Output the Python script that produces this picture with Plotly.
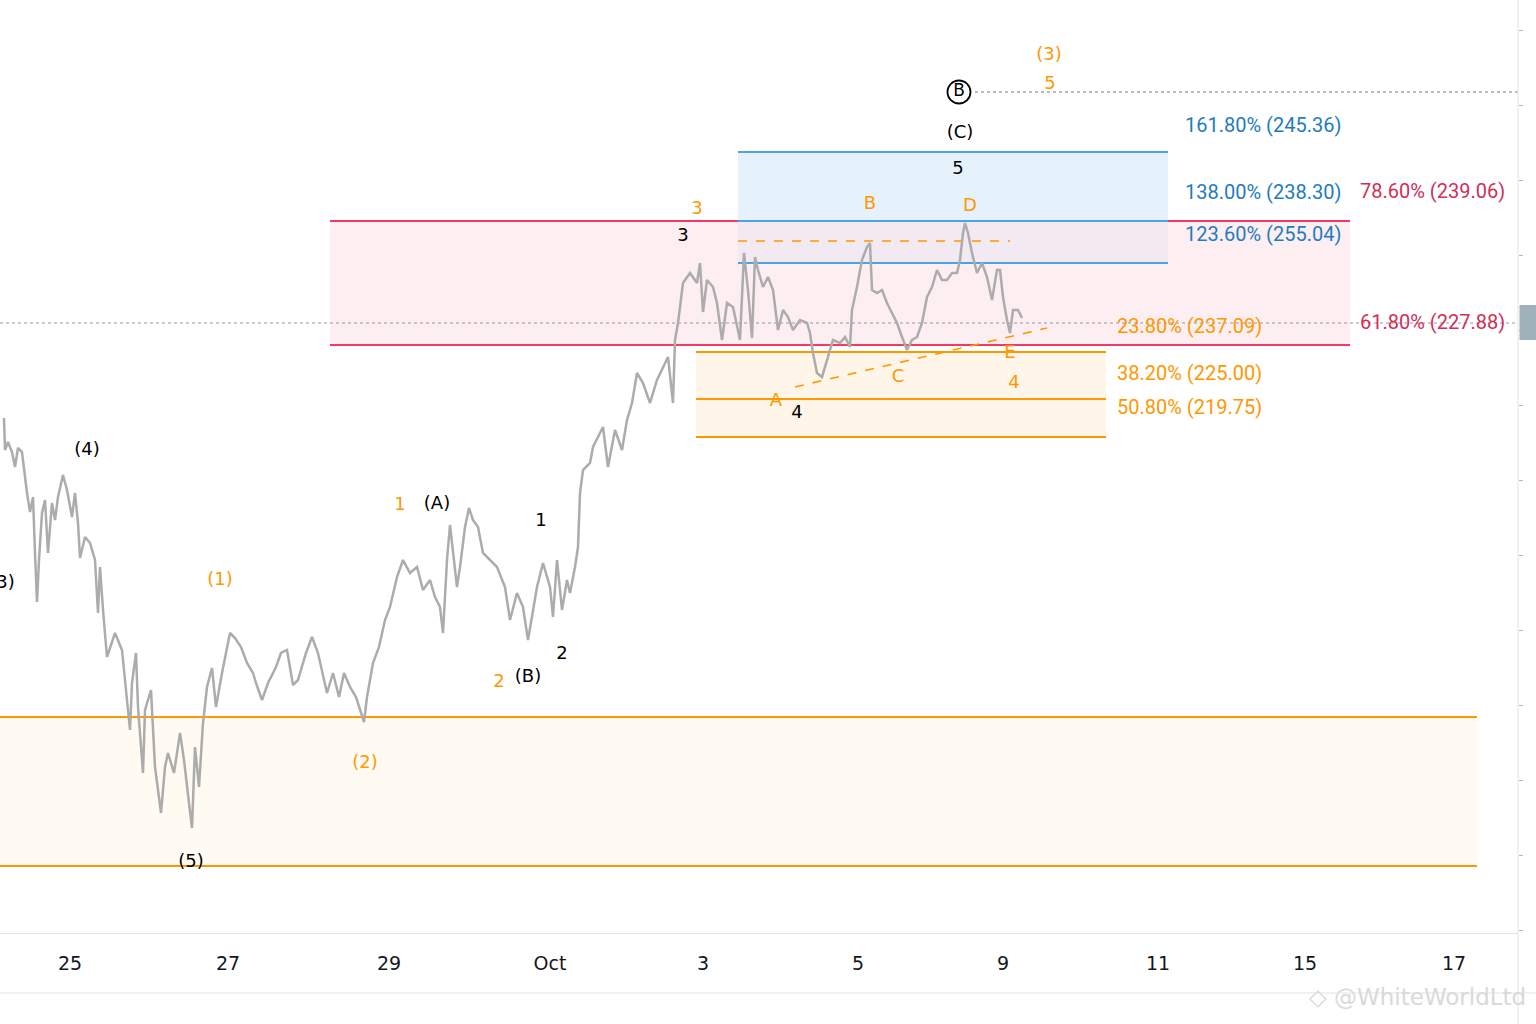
import plotly.graph_objects as go

# time axis in chart "slots"; the labels are the session dates
TICK_T = [7.0, 22.8, 38.9, 55.0, 70.3, 85.8, 100.3, 115.8, 130.5, 145.4]
TICK_TEXT = ["25", "27", "29", "Oct", "3", "5", "9", "11", "15", "17"]

# price path
PRICE_T = [
    0.4, 0.5, 0.8, 1.2, 1.5, 1.8, 2.2, 2.5, 2.7, 3.0,
    3.3, 3.5, 3.7, 3.9, 4.2, 4.5, 4.8, 5.2, 5.5, 5.8,
    6.3, 6.7, 7.2, 7.5, 7.8, 8.0, 8.5, 9.0, 9.5, 9.8,
    10.0, 10.3, 10.7, 11.5, 12.2, 13.0, 13.2, 13.6, 13.8, 14.3,
    14.5, 15.1, 15.5, 16.1, 16.5, 16.8, 17.4, 18.0, 18.4, 18.9,
    19.2, 19.5, 19.9, 20.3, 20.7, 21.2, 21.6, 22.2, 22.6, 23.0,
    23.5, 24.1, 24.7, 25.3, 25.6, 26.2, 26.8, 27.6, 28.1, 28.7,
    29.3, 29.8, 30.6, 31.2, 31.8, 32.3, 32.7, 33.3, 33.9, 34.4,
    35.0, 35.6, 36.2, 36.4, 36.7, 37.3, 37.9, 38.5, 39.0, 39.7,
    40.3, 41.0, 41.7, 42.3, 43.0, 43.5, 44.0, 44.3, 44.7, 45.0,
    45.7, 46.0, 46.5, 46.9, 47.3, 47.8, 48.3, 49.0, 49.7, 50.5,
    51.0, 51.7, 52.3, 52.8, 53.3, 53.7, 54.3, 55.0, 55.3, 55.7,
    56.2, 56.7, 57.0, 57.5, 57.8, 58.0, 58.3, 59.0, 59.3, 60.0,
    60.3, 60.8, 61.5, 62.2, 62.7, 63.2, 63.7, 64.3, 65.0, 65.7,
    66.3, 66.8, 67.3, 67.5, 67.8, 68.3, 69.0, 69.7, 70.0, 70.3,
    70.7, 71.3, 71.7, 72.2, 72.7, 73.3, 74.0, 74.4, 74.8, 75.2,
    75.5, 75.8, 76.3, 76.8, 77.3, 77.8, 78.3, 78.8, 79.3, 80.0,
    80.7, 81.0, 81.3, 81.7, 82.2, 82.7, 83.3, 84.0, 84.5, 85.0,
    85.2, 85.7, 86.2, 86.7, 87.0, 87.2, 87.7, 88.2, 88.7, 89.2,
    89.7, 90.2, 90.7, 91.2, 91.7, 92.2, 92.7, 93.2, 93.7, 94.2,
    94.7, 95.2, 95.7, 96.0, 96.3, 96.5, 96.8, 97.2, 97.7, 98.2,
    98.7, 99.2, 99.7, 100.0, 100.3, 100.7, 101.0, 101.3, 101.8, 102.2,
]
PRICE = [
    218.2, 215.0, 215.8, 214.8, 213.3, 215.2, 214.8, 212.3, 210.7, 208.8,
    210.3, 204.7, 199.8, 204.0, 208.7, 210.0, 204.7, 209.7, 208.0, 210.3,
    212.5, 211.0, 208.3, 210.7, 207.7, 204.2, 206.3, 205.7, 204.0, 198.7,
    203.3, 199.0, 194.3, 196.7, 195.0, 187.0, 191.7, 194.7, 189.3, 182.7,
    189.0, 191.0, 183.3, 178.7, 183.3, 184.7, 182.7, 186.7, 184.0, 179.7,
    177.2, 185.3, 181.3, 187.7, 191.3, 193.2, 189.3, 192.7, 194.7, 196.7,
    196.2, 195.3, 193.7, 192.7, 191.7, 190.0, 191.7, 193.3, 194.7, 195.0,
    191.5, 192.0, 194.7, 196.3, 194.7, 192.3, 190.7, 192.7, 190.3, 192.7,
    191.3, 190.3, 188.5, 187.8, 190.3, 193.7, 195.3, 198.0, 199.3, 202.3,
    204.0, 202.7, 203.3, 201.0, 202.0, 200.3, 199.3, 196.7, 204.0, 207.5,
    201.3, 203.3, 207.3, 209.2, 208.0, 207.3, 204.7, 204.0, 203.3, 201.3,
    198.0, 200.7, 199.3, 196.0, 199.0, 201.3, 203.7, 201.3, 198.3, 204.0,
    199.0, 202.0, 200.7, 203.3, 205.3, 210.7, 213.0, 213.7, 215.3, 216.7,
    217.3, 213.3, 217.0, 215.0, 218.0, 219.7, 222.7, 221.7, 219.7, 222.0,
    223.3, 224.3, 219.7, 226.0, 227.7, 231.7, 232.7, 231.7, 233.7, 228.8,
    232.0, 231.3, 229.7, 226.0, 229.7, 229.3, 226.0, 234.7, 231.0, 226.2,
    234.3, 233.0, 231.3, 232.3, 231.0, 227.0, 229.0, 228.3, 227.0, 228.0,
    227.7, 226.7, 224.7, 222.7, 222.3, 224.0, 226.0, 225.7, 226.3, 225.3,
    229.0, 231.3, 234.0, 235.3, 235.7, 231.0, 230.7, 231.0, 229.7, 228.7,
    227.7, 226.3, 225.0, 226.0, 226.3, 227.7, 230.3, 231.3, 233.0, 232.0,
    232.0, 232.7, 232.7, 234.0, 236.7, 237.7, 236.7, 234.7, 232.7, 233.7,
    232.3, 230.0, 233.0, 233.0, 230.3, 228.0, 226.7, 229.0, 229.0, 228.2,
]
assert len(PRICE_T) == len(PRICE)

LAST_PRICE = 227.7
B_T, B_LEVEL = 95.9, 250.8

# zones: [start, end] in time and their levels
PINK_T = [33.0, 135.0]
PINK_LEVELS = [237.9, 225.5]
BLUE_T = [73.8, 116.8]
BLUE_LEVELS = [244.8, 237.9, 233.7]
ORANGE_T = [69.6, 110.6]
ORANGE_LEVELS = [224.8, 220.1, 216.3]
ZONE_T = [0.0, 147.7]
ZONE_LEVELS = [188.3, 173.4]
FLAT_T = [73.8, 101.0]
FLAT_LEVEL = 235.9
TREND_T = [79.5, 104.7]
TREND_P = [221.3, 227.2]

# wave labels
BLACK_TEXT = ["(3)", "(4)", "(5)", "(A)", "(B)", "1", "2", "3", "4", "5", "(C)"]
BLACK_T = [0.2, 8.7, 19.1, 43.7, 52.8, 54.1, 56.2, 68.3, 79.7, 95.8, 96.0]
BLACK_P = [201.7, 215.0, 173.8, 209.6, 192.3, 207.9, 194.6, 236.4, 218.7, 243.1, 246.7]
ORANGE_TEXT = ["(1)", "(2)", "1", "2", "3", "A", "B", "C", "D", "E", "4", "(3)", "5"]
ORANGE_T_LBL = [22.0, 36.5, 40.0, 49.9, 69.7, 77.6, 87.0, 89.8, 97.0, 101.0, 101.4, 104.9, 105.0]
ORANGE_P_LBL = [202.0, 183.7, 209.5, 191.8, 239.1, 219.9, 239.6, 222.3, 239.4, 224.7, 221.7, 254.5, 251.6]

# fib labels
BLUE_FIB_TEXT = ["161.80% (245.36)", "138.00% (238.30)", "123.60% (255.04)"]
BLUE_FIB_P = [247.3, 240.6, 236.4]
RED_FIB_TEXT = ["78.60% (239.06)", "61.80% (227.88)"]
RED_FIB_P = [240.7, 227.6]
ORANGE_FIB_TEXT = ["23.80% (237.09)", "38.20% (225.00)", "50.80% (219.75)"]
ORANGE_FIB_P = [227.2, 222.5, 219.1]

ORANGE = "#ff9800"
PINK_LINE = "#f23a68"
BLUE_LINE = "#4aa3e3"
WAVE_FONT = "DejaVu Sans"
FIB_FONT = "Roboto"

fig = go.Figure()


def hline(x0, x1, y, color, width=2, dash="solid"):
    fig.add_shape(type="line", x0=x0, x1=x1, y0=y, y1=y, layer="below",
                  line=dict(color=color, width=width, dash=dash))


def box(x0, x1, y0, y1, fill):
    fig.add_shape(type="rect", x0=x0, x1=x1, y0=y0, y1=y1, layer="below",
                  fillcolor=fill, line=dict(width=0))


# bottom support zone
box(ZONE_T[0], ZONE_T[1], ZONE_LEVELS[1], ZONE_LEVELS[0], "#fffbf3")
for lv in ZONE_LEVELS:
    hline(ZONE_T[0], ZONE_T[1], lv, ORANGE)

# pink retracement zone
box(PINK_T[0], PINK_T[1], PINK_LEVELS[1], PINK_LEVELS[0], "#fdeef2")
# blue extension zone
box(BLUE_T[0], BLUE_T[1], BLUE_LEVELS[1], BLUE_LEVELS[0], "#e6f2fb")
box(BLUE_T[0], BLUE_T[1], BLUE_LEVELS[2], BLUE_LEVELS[1], "rgba(33,150,243,0.05)")
# orange zone
box(ORANGE_T[0], ORANGE_T[1], ORANGE_LEVELS[2], ORANGE_LEVELS[0], "#fff5e8")

for lv in PINK_LEVELS:
    hline(PINK_T[0], PINK_T[1], lv, PINK_LINE)
for lv in BLUE_LEVELS:
    hline(BLUE_T[0], BLUE_T[1], lv, BLUE_LINE)
for lv in ORANGE_LEVELS:
    hline(ORANGE_T[0], ORANGE_T[1], lv, ORANGE)

# dotted price lines
hline(0, 151.8, LAST_PRICE, "#9598a1", width=1, dash="dot")
hline(B_T + 1.6, 151.8, B_LEVEL, "#787b86", width=1, dash="dot")

# triangle lines
hline(FLAT_T[0], FLAT_T[1], FLAT_LEVEL, ORANGE, width=1.6, dash="dash")
fig.add_shape(type="line", x0=TREND_T[0], x1=TREND_T[1], y0=TREND_P[0], y1=TREND_P[1],
              line=dict(color=ORANGE, width=1.6, dash="dash"))

fig.add_trace(go.Scatter(x=PRICE_T, y=PRICE, mode="lines",
                         line=dict(color="#acacac", width=2.5), hoverinfo="skip"))

fig.add_trace(go.Scatter(x=BLACK_T, y=BLACK_P, mode="text", text=BLACK_TEXT,
                         textfont=dict(family=WAVE_FONT, size=18, color="#000000")))
fig.add_trace(go.Scatter(x=ORANGE_T_LBL, y=ORANGE_P_LBL, mode="text", text=ORANGE_TEXT,
                         textfont=dict(family=WAVE_FONT, size=18, color=ORANGE)))
fig.add_trace(go.Scatter(x=[B_T], y=[B_LEVEL], mode="markers+text", text=["B"],
                         marker=dict(symbol="circle-open", size=23, color="#000000",
                                     line=dict(width=1.8)),
                         textfont=dict(family=WAVE_FONT, size=17, color="#000000")))

fig.add_trace(go.Scatter(x=[118.5] * 3, y=BLUE_FIB_P, mode="text", text=BLUE_FIB_TEXT,
                         textposition="middle right",
                         textfont=dict(family=FIB_FONT, size=20, color="#1e7cc0")))
fig.add_trace(go.Scatter(x=[136.0] * 2, y=RED_FIB_P, mode="text", text=RED_FIB_TEXT,
                         textposition="middle right",
                         textfont=dict(family=FIB_FONT, size=20, color="#d12f58")))
fig.add_trace(go.Scatter(x=[111.7] * 3, y=ORANGE_FIB_P, mode="text", text=ORANGE_FIB_TEXT,
                         textposition="middle right",
                         textfont=dict(family=FIB_FONT, size=20, color=ORANGE)))

# price-scale remnants on the right
fig.add_shape(type="rect", xref="paper", yref="y", x0=1.001, x1=1.02, y0=226.0, y1=229.5,
              fillcolor="#9fb1ba", line=dict(width=0))
fig.add_shape(type="line", xref="paper", yref="paper", x0=0, x1=1.02, y0=-0.0643, y1=-0.0643,
              line=dict(color="#e0e3eb", width=1))
fig.add_shape(type="line", xref="paper", yref="paper", x0=1, x1=1, y0=-0.11, y1=1,
              line=dict(color="#e0e3eb", width=1))

fig.add_annotation(xref="paper", yref="paper", x=1.0066, y=-0.0686, xanchor="right", yanchor="middle",
                   text="◇ @WhiteWorldLtd", showarrow=False,
                   font=dict(family="DejaVu Sans", size=23, color="#d9d9d9"))

fig.update_layout(
    width=1536, height=1024,
    margin=dict(l=0, r=18, t=0, b=91),
    paper_bgcolor="white", plot_bgcolor="white",
    showlegend=False,
    xaxis=dict(range=[0, 151.8], tickvals=TICK_T, ticktext=TICK_TEXT,
               showgrid=False, zeroline=False, showline=True, linecolor="#e0e3eb",
               ticks="outside", ticklen=13, tickcolor="rgba(0,0,0,0)",
               tickfont=dict(family=WAVE_FONT, size=19, color="#131722")),
    yaxis=dict(range=[166.7, 260.0], side="right", showgrid=False, zeroline=False,
               showline=False, showticklabels=False, ticks="outside", ticklen=4,
               tickcolor="#b2b5be", tick0=249.5, dtick=7.5),
)

fig.write_html("out.html", config={"displayModeBar": False},
               post_script="document.body.style.margin='0';")
